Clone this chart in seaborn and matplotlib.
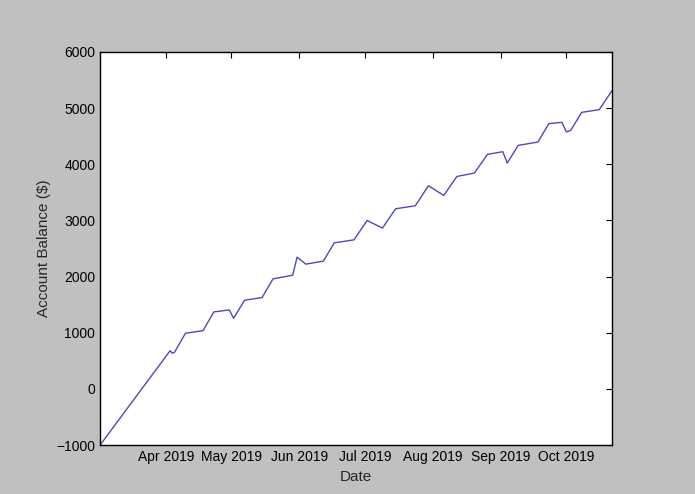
import pandas as pd
import seaborn as sns
import matplotlib.pyplot as plt
import matplotlib.dates as mdates

dates = ['2019-03-02', '2019-04-03', '2019-04-04', '2019-04-05', '2019-04-10', '2019-04-18',
         '2019-04-23', '2019-04-30', '2019-05-02', '2019-05-07', '2019-05-15', '2019-05-20',
         '2019-05-29', '2019-05-31', '2019-06-04', '2019-06-12', '2019-06-17', '2019-06-26',
         '2019-07-02', '2019-07-09', '2019-07-15', '2019-07-24', '2019-07-30', '2019-08-06',
         '2019-08-12', '2019-08-20', '2019-08-26', '2019-09-02', '2019-09-04', '2019-09-09',
         '2019-09-18', '2019-09-23', '2019-09-29', '2019-10-01', '2019-10-03', '2019-10-08',
         '2019-10-16', '2019-10-22']
balance = [-1000, 681, 635, 652, 991, 1037, 1371, 1406, 1258, 1579, 1626, 1959,
           2025, 2346, 2221, 2275, 2600, 2654, 2998, 2863, 3207, 3260, 3617, 3444,
           3782, 3843, 4176, 4223, 4021, 4335, 4395, 4722, 4746, 4574, 4602, 4923,
           4971, 5316]

df = pd.DataFrame({'Date': pd.to_datetime(dates), 'Balance': balance})

sns.set_style('white')
plt.rcParams['font.family'] = ['Liberation Sans', 'DejaVu Sans']

fig = plt.figure(figsize=(6.95, 4.94), dpi=100, facecolor='#c0c0c0')
ax = fig.add_axes([0.144, 0.099, 0.737, 0.796])
sns.lineplot(data=df, x='Date', y='Balance', color='#4b4bb8', linewidth=1, ax=ax)

ax.set_xlim(pd.Timestamp('2019-03-02'), pd.Timestamp('2019-10-22'))
ax.set_ylim(-1000, 6000)
ax.set_yticks(range(-1000, 6001, 1000))
ax.xaxis.set_major_locator(mdates.MonthLocator(bymonth=range(4, 11)))
ax.xaxis.set_major_formatter(mdates.DateFormatter('%b %Y'))
ax.tick_params(direction='in', top=True, right=True, length=4, labelsize=10, colors='black')
for s in ax.spines.values():
    s.set_color('black')
    s.set_linewidth(1)
ax.set_xlabel('Date', fontsize=11)
ax.set_ylabel('Account Balance ($)', fontsize=11)

fig.savefig('out.png', facecolor=fig.get_facecolor())
